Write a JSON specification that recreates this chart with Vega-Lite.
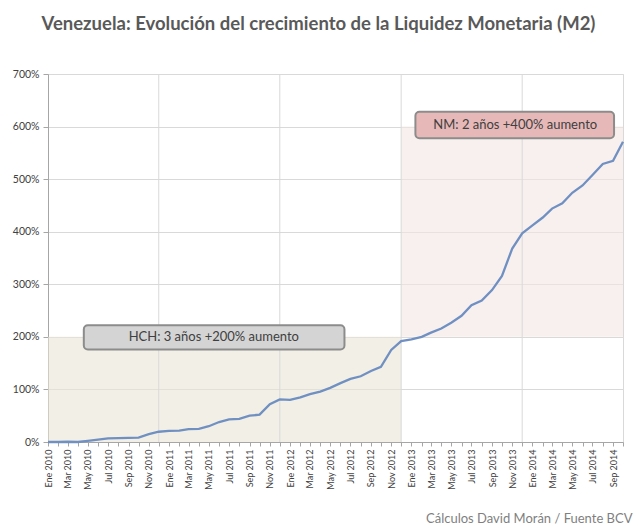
{
  "$schema": "https://vega.github.io/schema/vega-lite/v6.json",
  "width": 575,
  "height": 368,
  "autosize": {"type": "none"},
  "padding": {"left": 48, "top": 74, "right": 16, "bottom": 89},
  "background": "white",
  "title": {
    "text": "Venezuela: Evolución del crecimiento de la Liquidez Monetaria (M2)",
    "font": "Lato",
    "fontSize": 18.5,
    "fontWeight": "bold",
    "color": "#595959",
    "anchor": "middle",
    "offset": 36,
    "dx": -17
  },
  "config": {
    "font": "Lato",
    "view": {"stroke": "#d9d9d9"}
  },
  "datasets": {
    "zonas": [
      {"inicio": "2010-01-01", "fin": "2012-12-01", "base": 0, "tope": 200, "zona": "HCH"},
      {"inicio": "2012-12-01", "fin": "2014-10-01", "base": 200, "tope": 600, "zona": "NM"}
    ],
    "lineas": [
      {"fecha": "2010-12-01"},
      {"fecha": "2011-12-01"},
      {"fecha": "2012-12-01"},
      {"fecha": "2013-12-01"}
    ],
    "serie": [
      {"fecha": "2010-01-01", "m2": 0},
      {"fecha": "2010-02-01", "m2": 0},
      {"fecha": "2010-03-01", "m2": 0.5},
      {"fecha": "2010-04-01", "m2": 0},
      {"fecha": "2010-05-01", "m2": 2},
      {"fecha": "2010-06-01", "m2": 4.5},
      {"fecha": "2010-07-01", "m2": 7},
      {"fecha": "2010-08-01", "m2": 7.5},
      {"fecha": "2010-09-01", "m2": 8},
      {"fecha": "2010-10-01", "m2": 8.5},
      {"fecha": "2010-11-01", "m2": 15},
      {"fecha": "2010-12-01", "m2": 19.5},
      {"fecha": "2011-01-01", "m2": 21},
      {"fecha": "2011-02-01", "m2": 21.5},
      {"fecha": "2011-03-01", "m2": 24.5},
      {"fecha": "2011-04-01", "m2": 25},
      {"fecha": "2011-05-01", "m2": 30},
      {"fecha": "2011-06-01", "m2": 38},
      {"fecha": "2011-07-01", "m2": 43},
      {"fecha": "2011-08-01", "m2": 44},
      {"fecha": "2011-09-01", "m2": 50},
      {"fecha": "2011-10-01", "m2": 52},
      {"fecha": "2011-11-01", "m2": 72},
      {"fecha": "2011-12-01", "m2": 81},
      {"fecha": "2012-01-01", "m2": 80},
      {"fecha": "2012-02-01", "m2": 85},
      {"fecha": "2012-03-01", "m2": 91},
      {"fecha": "2012-04-01", "m2": 96},
      {"fecha": "2012-05-01", "m2": 103},
      {"fecha": "2012-06-01", "m2": 112},
      {"fecha": "2012-07-01", "m2": 120},
      {"fecha": "2012-08-01", "m2": 125},
      {"fecha": "2012-09-01", "m2": 135},
      {"fecha": "2012-10-01", "m2": 143},
      {"fecha": "2012-11-01", "m2": 175},
      {"fecha": "2012-12-01", "m2": 192},
      {"fecha": "2013-01-01", "m2": 195},
      {"fecha": "2013-02-01", "m2": 200},
      {"fecha": "2013-03-01", "m2": 208},
      {"fecha": "2013-04-01", "m2": 216},
      {"fecha": "2013-05-01", "m2": 227},
      {"fecha": "2013-06-01", "m2": 240},
      {"fecha": "2013-07-01", "m2": 260},
      {"fecha": "2013-08-01", "m2": 269},
      {"fecha": "2013-09-01", "m2": 289},
      {"fecha": "2013-10-01", "m2": 316},
      {"fecha": "2013-11-01", "m2": 368},
      {"fecha": "2013-12-01", "m2": 397},
      {"fecha": "2014-01-01", "m2": 412},
      {"fecha": "2014-02-01", "m2": 427},
      {"fecha": "2014-03-01", "m2": 444},
      {"fecha": "2014-04-01", "m2": 454},
      {"fecha": "2014-05-01", "m2": 474},
      {"fecha": "2014-06-01", "m2": 488},
      {"fecha": "2014-07-01", "m2": 508},
      {"fecha": "2014-08-01", "m2": 529},
      {"fecha": "2014-09-01", "m2": 535},
      {"fecha": "2014-10-01", "m2": 571}
    ],
    "notas": [
      {"nota": "HCH: 3 años +200% aumento", "zona": "HCH", "desde": "2010-04-19", "hasta": "2012-06-13", "abajo": 176, "arriba": 222, "centro": "2011-05-16", "nivel": 200},
      {"nota": "NM: 2 años +400% aumento", "zona": "NM", "desde": "2013-01-13", "hasta": "2014-09-04", "abajo": 578, "arriba": 628, "centro": "2013-11-10", "nivel": 603}
    ]
  },
  "layer": [
    {
      "data": {"name": "zonas"},
      "mark": {"type": "rect", "opacity": 0.6},
      "encoding": {
        "x": {
          "field": "inicio", "type": "temporal",
          "scale": {"type": "utc", "domain": [{"year": 2010, "month": 1, "date": 1, "utc": true}, {"year": 2014, "month": 10, "date": 1, "utc": true}]},
          "axis": {
            "title": "Cálculos David Morán / Fuente BCV",
            "titleFont": "Lato",
            "titleFontSize": 13,
            "titleFontWeight": "normal",
            "titleColor": "#7f7f7f",
            "titleAlign": "right",
            "titleAnchor": "end",
            "titleX": 584,
            "titleY": 80,
            "titleBaseline": "alphabetic",
            "tickCount": {"interval": "month", "step": 1},
            "labelExpr": "utcmonth(datum.value) % 2 == 0 ? ['Ene','Feb','Mar','Abr','May','Jun','Jul','Ago','Sep','Oct','Nov','Dic'][utcmonth(datum.value)] + ' ' + utcyear(datum.value) : ''",
            "labelAngle": 270,
            "labelFontSize": 9,
            "labelColor": "#404040",
            "labelOverlap": false,
            "labelFlush": false,
            "labelBound": false,
            "labelPadding": 3,
            "tickSize": 4,
            "tickColor": "#a6a6a6",
            "domainColor": "#a6a6a6",
            "grid": false
          }
        },
        "x2": {"field": "fin"},
        "y": {
          "field": "base", "type": "quantitative",
          "scale": {"domain": [0, 700], "nice": false},
          "axis": {
            "title": null,
            "values": [0, 100, 200, 300, 400, 500, 600, 700],
            "labelExpr": "datum.value + '%'",
            "labelFontSize": 10.5,
            "labelColor": "#404040",
            "labelPadding": 4,
            "tickSize": 5,
            "tickColor": "#a6a6a6",
            "domainColor": "#a6a6a6",
            "gridColor": "#d9d9d9",
            "grid": true
          }
        },
        "y2": {"field": "tope"},
        "color": {"field": "zona", "type": "nominal", "scale": {"domain": ["HCH", "NM"], "range": ["#e9e4d5", "#f3e6e4"]}, "legend": null}
      }
    },
    {
      "data": {"name": "lineas"},
      "mark": {"type": "rule", "color": "#d9d9d9", "strokeWidth": 1},
      "encoding": {
        "x": {"field": "fecha", "type": "temporal"}
      }
    },
    {
      "data": {"name": "serie"},
      "mark": {"type": "line", "color": "#7090c2", "strokeWidth": 2.3},
      "encoding": {
        "x": {"field": "fecha", "type": "temporal"},
        "y": {"field": "m2", "type": "quantitative"}
      }
    },
    {
      "data": {"name": "notas"},
      "mark": {"type": "rect", "cornerRadius": 4, "stroke": "#8c8c8c", "strokeWidth": 2},
      "encoding": {
        "x": {"field": "desde", "type": "temporal"},
        "x2": {"field": "hasta"},
        "y": {"field": "abajo", "type": "quantitative"},
        "y2": {"field": "arriba"},
        "fill": {"field": "zona", "type": "nominal", "scale": {"domain": ["HCH", "NM"], "range": ["#d4d4d4", "#e6b9b8"]}, "legend": null}
      }
    },
    {
      "data": {"name": "notas"},
      "mark": {"type": "text", "font": "Lato", "fontSize": 13, "color": "#404040", "align": "center", "baseline": "middle"},
      "encoding": {
        "x": {"field": "centro", "type": "temporal"},
        "y": {"field": "nivel", "type": "quantitative"},
        "text": {"field": "nota"}
      }
    }
  ]
}
